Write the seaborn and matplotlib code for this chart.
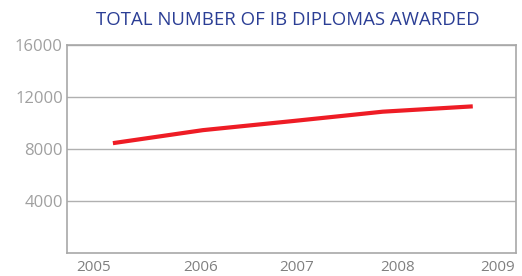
import pandas as pd
import matplotlib.pyplot as plt
import seaborn as sns

# data
years = [2005, 2006, 2007, 2008, 2009]
diplomas = [8450, 9450, 10150, 10870, 11280]
year_labels = ['2005', '2006', '2007', '2008', '2009']
y_ticks = [4000, 8000, 12000, 16000]

df = pd.DataFrame({'year': years, 'diplomas': diplomas})

sns.set_style('white')
plt.rcParams['font.family'] = ['Open Sans', 'DejaVu Sans']

fig = plt.figure(figsize=(5.22, 2.76), dpi=100)
ax = fig.add_axes([0.1284, 0.0833, 0.86, 0.7537])

sns.lineplot(data=df, x='year', y='diplomas', color='#EE1C25', linewidth=3,
             ax=ax, solid_capstyle='butt')

ax.set_ylim(0, 16000)
ax.set_xlim(2004.49, 2009.48)
ax.set_yticks(y_ticks)
ax.set_yticklabels([str(v) for v in y_ticks])
ax.grid(axis='y', color='#b0b0b0', linewidth=1)
ax.tick_params(axis='y', length=0, pad=3, labelsize=12, labelcolor='#a0a0a0')

# year labels sit between small tick marks
ax.set_xticks([2005.39, 2006.49, 2007.6, 2008.79])
ax.set_xticklabels([])
ax.set_xticks([2004.78, 2005.97, 2007.04, 2008.16, 2009.28], minor=True)
ax.set_xticklabels(year_labels, minor=True)
ax.tick_params(axis='x', which='major', length=3, color='#a0a0a0', width=1)
ax.tick_params(axis='x', which='minor', length=0, pad=5, labelsize=11,
               labelcolor='#808080')

for s in ax.spines.values():
    s.set_color('#a8a8a8')
    s.set_linewidth(1.2)

ax.set_xlabel('')
ax.set_ylabel('')
fig.text(0.552, 0.928, 'TOTAL NUMBER OF IB DIPLOMAS AWARDED', ha='center',
         va='center', fontsize=13.4, color='#2B3E95')

fig.savefig('out.png', dpi=100)
